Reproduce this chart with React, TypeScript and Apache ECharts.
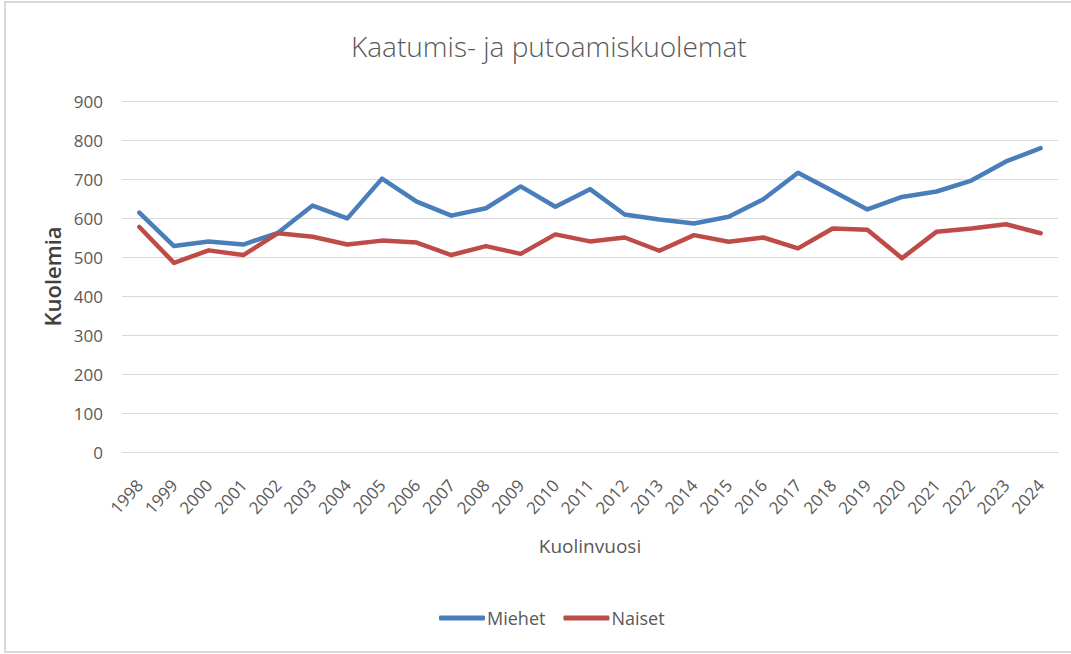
import React, { useEffect, useRef } from "react";
import * as echarts from "echarts";

const years = ["1998","1999","2000","2001","2002","2003","2004","2005","2006","2007","2008","2009","2010","2011","2012","2013","2014","2015","2016","2017","2018","2019","2020","2021","2022","2023","2024"];
const miehet = [614, 528, 540, 532, 562, 632, 599, 701, 642, 606, 625, 681, 629, 674, 609, 596, 586, 603, 648, 716, 669, 622, 654, 668, 696, 745, 779];
const naiset = [577, 485, 517, 505, 561, 552, 532, 542, 537, 505, 528, 508, 558, 540, 550, 516, 556, 539, 550, 522, 573, 570, 497, 565, 573, 584, 561];
const yTicks = [0, 900, 100];

export default function App() {
  const ref = useRef<HTMLDivElement>(null);
  useEffect(() => {
    const chart = echarts.init(ref.current!, null, { renderer: "svg" });
    const font = "'Open Sans', 'Liberation Sans', sans-serif";
    chart.setOption({
      animation: false,
      backgroundColor: "#ffffff",
      textStyle: { fontFamily: font },
      graphic: [
        {
          type: "rect",
          shape: { x: 5, y: 2, width: 1080, height: 650 },
          style: { fill: "none", stroke: "#d9d9d9", lineWidth: 2 },
          silent: true,
        },
      ],
      title: {
        text: "Kaatumis- ja putoamiskuolemat",
        left: 346,
        top: 27,
        textStyle: { fontFamily: font, fontWeight: 300, fontSize: 28, color: "#595959" },
      },
      legend: {
        data: ["Miehet", "Naiset"],
        bottom: 22,
        left: 434,
        icon: "roundRect",
        itemWidth: 46,
        itemHeight: 5,
        itemGap: 18,
        textStyle: { fontFamily: font, fontSize: 18, color: "#595959", padding: [0, 0, 0, -3] },
      },
      grid: { left: 122, right: 13, top: 101, bottom: 202 },
      xAxis: {
        type: "category",
        data: years,
        boundaryGap: true,
        name: "Kuolinvuosi",
        nameLocation: "middle",
        nameGap: 84,
        nameTextStyle: { fontFamily: font, fontSize: 19, color: "#595959" },
        axisLine: { lineStyle: { color: "#d9d9d9", width: 1 } },
        axisTick: { show: false },
        axisLabel: { rotate: 48, fontSize: 17, color: "#595959", margin: 30, interval: 0 },
      },
      yAxis: {
        type: "value",
        min: yTicks[0],
        max: yTicks[1],
        interval: yTicks[2],
        name: "Kuolemia",
        nameLocation: "middle",
        nameRotate: 90,
        nameGap: 55,
        nameTextStyle: { fontFamily: font, fontWeight: 600, fontSize: 22, color: "#404040" },
        axisLine: { show: false },
        axisTick: { show: false },
        axisLabel: { fontSize: 17, color: "#595959", margin: 19 },
        splitLine: { lineStyle: { color: "#d9d9d9", width: 1 } },
      },
      series: [
        {
          name: "Miehet",
          type: "line",
          data: miehet,
          symbol: "none",
          lineStyle: { width: 4.5, color: "#4a7ebb", cap: "round", join: "round" },
          itemStyle: { color: "#4a7ebb" },
        },
        {
          name: "Naiset",
          type: "line",
          data: naiset,
          symbol: "none",
          lineStyle: { width: 4.5, color: "#be4b48", cap: "round", join: "round" },
          itemStyle: { color: "#be4b48" },
        },
      ],
    });
    return () => chart.dispose();
  }, []);
  return (
    <div
      ref={ref}
      style={{ position: "fixed", left: 0, top: 0, width: 1071, height: 654 }}
    />
  );
}
